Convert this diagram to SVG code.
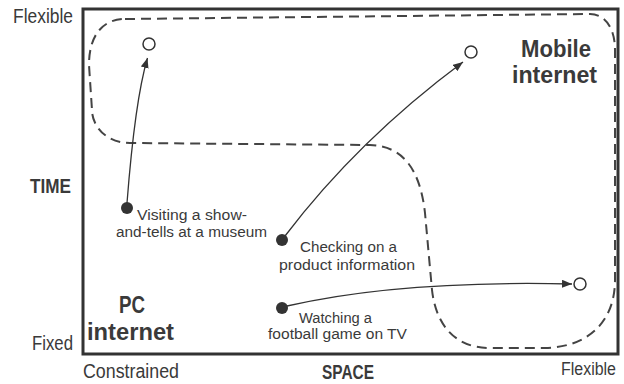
<svg xmlns="http://www.w3.org/2000/svg" width="624" height="384" viewBox="0 0 624 384">
<style>
text{font-family:"Liberation Sans",Arial,sans-serif;fill:#3a3a3a}
.ax{font-size:19.5px}
.axb{font-size:19.5px;font-weight:bold}
.big{font-size:23px;font-weight:bold;text-anchor:middle}
.lbl{font-size:15.5px;text-anchor:middle}
.frame{fill:none;stroke:#333;stroke-width:3}
.zone{fill:none;stroke:#444;stroke-width:2;stroke-dasharray:10 6}
.arr{fill:none;stroke:#333;stroke-width:1.3;marker-end:url(#ah)}
.start{fill:#333}
.end{fill:#fff;stroke:#333;stroke-width:1.5}
</style>
<defs>
<marker id="ah" markerUnits="userSpaceOnUse" markerWidth="11" markerHeight="8" refX="10" refY="4" orient="auto">
<path d="M0,0 L10,4 L0,8 z" fill="#333"/>
</marker>
</defs>
<rect x="0" y="0" width="624" height="384" fill="#fff"/>
<g id="frame">
<rect class="frame" x="83" y="9" width="535" height="345"/>
</g>
<g id="zones">
<path class="zone" d="M125 19 L590 14 C605 14 615 28 615 50 L615 280 C615 320 590 347 545 348 L490 348 C455 348 436 325 432 290 L425 213 C420 168 402 146 370 145 L130 143 C105 143 92 125 92 110 L89 65 C89 35 103 19 125 19 Z"/>
</g>
<g id="axes-labels">
<text class="ax" x="13" y="23" textLength="60" lengthAdjust="spacingAndGlyphs">Flexible</text>
<text class="axb" x="30" y="193" textLength="41" lengthAdjust="spacingAndGlyphs">TIME</text>
<text class="ax" x="32" y="350" textLength="41" lengthAdjust="spacingAndGlyphs">Fixed</text>
<text class="ax" x="83" y="378" textLength="96" lengthAdjust="spacingAndGlyphs">Constrained</text>
<text class="axb" x="322" y="379" textLength="52" lengthAdjust="spacingAndGlyphs">SPACE</text>
<text x="616" y="375" text-anchor="end" font-size="18" textLength="55" lengthAdjust="spacingAndGlyphs">Flexible</text>
</g>
<g id="pc-internet">
<text class="big" x="132" y="313" textLength="26" lengthAdjust="spacingAndGlyphs">PC</text>
<text class="big" x="130.5" y="340" textLength="87" lengthAdjust="spacingAndGlyphs">internet</text>
</g>
<g id="mobile-internet">
<text class="big" x="556" y="57" textLength="70" lengthAdjust="spacingAndGlyphs">Mobile</text>
<text class="big" x="554.5" y="83" textLength="85" lengthAdjust="spacingAndGlyphs">internet</text>
</g>
<g id="connectors">
<path class="arr" d="M127 203 Q135 100 147.5 58"/>
<path class="arr" d="M285 236 Q358 140 463 62"/>
<path class="arr" d="M287 306 Q400 280 572 284"/>
</g>
<g id="visiting">
<circle class="start" cx="127" cy="208" r="6"/>
<circle class="end" cx="149" cy="44" r="6"/>
<text class="lbl" x="192" y="220" textLength="110" lengthAdjust="spacingAndGlyphs">Visiting a show-</text>
<text class="lbl" x="191.5" y="237" textLength="151" lengthAdjust="spacingAndGlyphs">and-tells at a museum</text>
</g>
<g id="checking">
<circle class="start" cx="282" cy="240" r="6"/>
<circle class="end" cx="471" cy="52" r="6"/>
<text class="lbl" x="348.5" y="252" textLength="97" lengthAdjust="spacingAndGlyphs">Checking on a</text>
<text class="lbl" x="347" y="270" textLength="136" lengthAdjust="spacingAndGlyphs">product information</text>
</g>
<g id="watching">
<circle class="start" cx="282" cy="308" r="6"/>
<circle class="end" cx="580" cy="284" r="6"/>
<text class="lbl" x="335.5" y="323" textLength="73" lengthAdjust="spacingAndGlyphs">Watching a</text>
<text class="lbl" x="337.5" y="339" textLength="139" lengthAdjust="spacingAndGlyphs">football game on TV</text>
</g>
</svg>
